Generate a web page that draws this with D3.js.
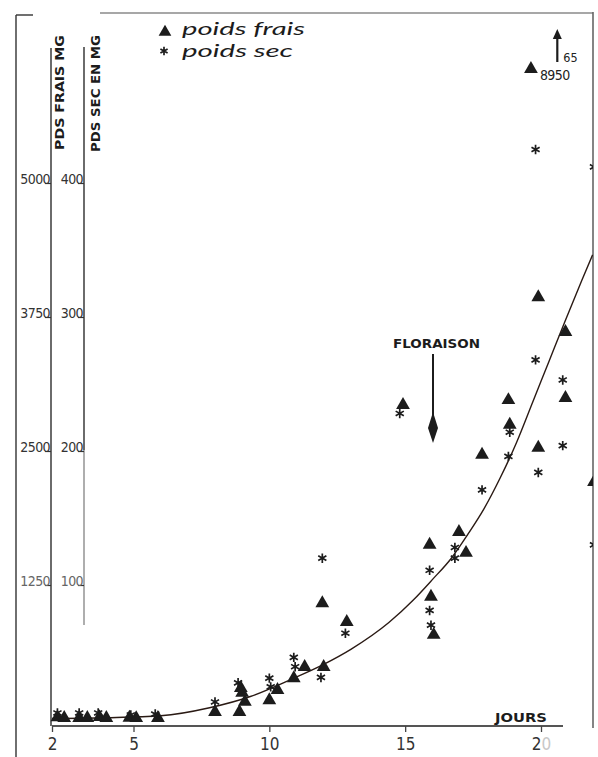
<!DOCTYPE html>
<html>
<head>
<meta charset="utf-8">
<script src="https://cdn.jsdelivr.net/npm/d3@7"></script>
<style>
  body { margin: 0; background: #fff; }
  svg { display: block; }
</style>
</head>
<body>
<svg id="chart" width="598" height="757"></svg>
<script>
// data (jours / mg)
const dayTicks = [2, 5, 10, 15, 20];
const freshTicks = [1250, 2500, 3750, 5000];
const dryTicks = [100, 200, 300, 400];

// poids frais (triangles)
const fraisDays = [2.2, 2.45, 3.0, 3.3, 3.75, 4.0, 4.85, 5.1, 5.9,
  8.0, 8.9, 9.1, 9.0, 8.95, 10.0, 10.3, 10.9, 11.3, 12.0, 11.95, 12.85,
  14.92, 15.9, 15.95, 16.05, 16.98, 17.24, 17.83, 18.8, 18.85,
  19.9, 19.9, 20.9, 20.9, 21.95];
const fraisValues = [15, 10, 10, 10, 18, 10, 12, 8, 10,
  65, 65, 160, 245, 290, 175, 270, 380, 485, 485, 1080, 905,
  2930, 1625, 1140, 785, 1745, 1550, 2465, 2975, 2745,
  3935, 2530, 3610, 2995, 2210];

// poids sec (asterisks)
const secDays = [2.2, 3.0, 3.7, 4.9, 5.8, 8.0, 8.85, 10.0, 10.05, 10.9, 10.95,
  11.9, 11.95, 12.8, 14.8, 15.9, 15.9, 15.95, 16.83, 16.83, 17.83,
  18.85, 18.8, 19.8, 19.9, 19.8, 20.8, 20.8, 21.95, 21.95];
const secValues = [4.5, 4.5, 4.5, 3, 3.7, 12.7, 27, 30.5, 24, 46, 39,
  31, 120, 64, 228, 111, 81, 70, 128, 120, 171,
  214, 196, 268, 184, 425, 253, 204, 130, 412];

// fitted curve (poids frais)
const curveDays = [2, 4, 6, 7.8, 9.3, 10.8, 12, 13, 14.4, 15.3, 16, 16.7, 17.3,
  17.9, 18.5, 19.1, 19.7, 20.3, 20.9, 21.5, 21.9];
const curveValues = [5, 12, 30, 105, 210, 370, 510, 650, 900, 1110, 1300, 1500, 1720,
  1960, 2250, 2580, 2960, 3340, 3720, 4090, 4330];

// off-scale values written on the figure
const offDay = 19.63;
const offValue = 8950;
const arrowDay = 20.6;
const arrowValue = 65;

const FONT = "'DejaVu Sans Condensed', 'DejaVu Sans', sans-serif";
const INK = "#1c1c1c";
const BREAK_Y = 69;
const RIGHT_EDGE = 593;

const svg = d3.select("#chart");

const xScale = d3.scaleLinear().domain([2, 20]).range([52, 541]);
const yFresh = d3.scaleLinear().domain([0, 5000]).range([719, 183]);
const yDry = d3.scaleLinear().domain([0, 400]).range([719, 183]);

drawFrame();
drawAxes();
drawCurve();
drawPoints();
drawLabels();

function drawFrame () {
  svg.append("line").attr("x1", 16).attr("x2", 16).attr("y1", 15).attr("y2", 757)
    .attr("stroke", "#333").attr("stroke-width", 1.4);
  svg.append("line").attr("x1", 16).attr("x2", 33).attr("y1", 15).attr("y2", 15)
    .attr("stroke", "#333").attr("stroke-width", 1.4);
  svg.append("line").attr("x1", 100).attr("x2", RIGHT_EDGE).attr("y1", 13).attr("y2", 13)
    .attr("stroke", "#8a8a8a").attr("stroke-width", 1.6);
  svg.append("line").attr("x1", RIGHT_EDGE).attr("x2", RIGHT_EDGE).attr("y1", 12).attr("y2", 728)
    .attr("stroke", "#666").attr("stroke-width", 1.6);

  svg.append("defs").append("clipPath").attr("id", "plot-clip")
    .append("rect").attr("x", 0).attr("y", 0).attr("width", RIGHT_EDGE).attr("height", 757);
}

function drawAxes () {
  // vertical axis lines
  svg.append("line").attr("x1", 51).attr("x2", 51).attr("y1", 48).attr("y2", 726)
    .attr("stroke", INK).attr("stroke-width", 1.3);
  svg.append("line").attr("x1", 84).attr("x2", 84).attr("y1", 47).attr("y2", 450)
    .attr("stroke", INK).attr("stroke-width", 1.3);
  svg.append("line").attr("x1", 84).attr("x2", 84).attr("y1", 450).attr("y2", 625)
    .attr("stroke", "#9a9a9a").attr("stroke-width", 1.6);

  // x axis
  svg.append("line").attr("x1", 52).attr("x2", 563).attr("y1", 726).attr("y2", 726)
    .attr("stroke", INK).attr("stroke-width", 1.5);

  let xAxis = svg.append("g").attr("id", "x-axis")
    .attr("transform", "translate(0,726)")
    .call(d3.axisBottom(xScale).tickValues(dayTicks).tickSize(6).tickFormat(d3.format("d")));
  xAxis.select(".domain").remove();
  xAxis.selectAll(".tick line").attr("stroke", "#444").attr("stroke-width", 1.3);
  xAxis.selectAll(".tick text")
    .attr("y", 24).attr("dy", 0)
    .attr("fill", "#333")
    .style("font-family", "'Liberation Sans Narrow', " + FONT)
    .style("font-size", "17px");
  xAxis.selectAll(".tick text").filter(d => d === 20)
    .text("2").append("tspan").attr("fill", "#c8c8c8").text("0");

  let freshAxis = svg.append("g").attr("id", "fresh-axis")
    .attr("transform", "translate(51,0)")
    .call(d3.axisLeft(yFresh).tickValues(freshTicks).tickSize(6).tickFormat(d3.format("d")));
  freshAxis.select(".domain").remove();

  let dryAxis = svg.append("g").attr("id", "dry-axis")
    .attr("transform", "translate(84,0)")
    .call(d3.axisLeft(yDry).tickValues(dryTicks).tickSize(6).tickFormat(d3.format("d")));
  dryAxis.select(".domain").remove();

  [freshAxis, dryAxis].forEach(ax => {
    ax.selectAll(".tick line").attr("stroke", "#333").attr("stroke-width", 1.2);
    ax.selectAll(".tick text")
      .attr("x", -1).attr("dy", 0).attr("y", 0)
      .attr("fill", d => (d === 1250 || d === 100) ? "#666" : "#333")
      .style("font-family", FONT)
      .style("font-size", "14px")
      .style("letter-spacing", "-0.6px");
  });
}

function drawCurve () {
  const pts = curveDays.map((d, i) => [xScale(d), yFresh(curveValues[i])]);
  const line = d3.line().curve(d3.curveMonotoneX);
  svg.append("path").attr("id", "fit-curve")
    .attr("clip-path", "url(#plot-clip)")
    .attr("d", line(pts))
    .attr("fill", "none")
    .attr("stroke", "#2a1a14")
    .attr("stroke-width", 1.4);
}

function drawPoints () {
  const tri = d3.symbol().type(d3.symbolTriangle).size(82);
  const star = d3.symbol().type(d3.symbolAsterisk).size(62);
  const g = svg.append("g").attr("clip-path", "url(#plot-clip)");

  g.selectAll("path.frais")
    .data(fraisDays.map((d, i) => ({ day: d, value: fraisValues[i] })))
    .join("path")
    .attr("class", "frais")
    .attr("d", tri)
    .attr("transform", d => `translate(${xScale(d.day)},${yFresh(d.value)})`)
    .attr("fill", INK);

  g.selectAll("path.sec")
    .data(secDays.map((d, i) => ({ day: d, value: secValues[i] })))
    .join("path")
    .attr("class", "sec")
    .attr("d", star)
    .attr("transform", d => `translate(${xScale(d.day)},${yDry(d.value)})`)
    .attr("fill", "none")
    .attr("stroke", INK)
    .attr("stroke-width", 1.7);

  // value too large for the scale: drawn at the top with its number
  svg.append("path").attr("d", tri)
    .attr("transform", `translate(${xScale(offDay)},${BREAK_Y})`)
    .attr("fill", INK);
  svg.append("text")
    .attr("x", xScale(offDay) + 9).attr("y", BREAK_Y + 11)
    .attr("fill", "#222")
    .style("font-family", FONT).style("font-size", "14px").style("letter-spacing", "-0.6px")
    .text(offValue);

  const ax = xScale(arrowDay);
  svg.append("line").attr("x1", ax).attr("x2", ax).attr("y1", 36).attr("y2", 62)
    .attr("stroke", INK).attr("stroke-width", 2.2);
  svg.append("path").attr("d", `M${ax},29 L${ax + 4.5},39 L${ax - 4.5},39 Z`).attr("fill", INK);
  svg.append("text")
    .attr("x", ax + 6).attr("y", 62)
    .attr("fill", "#222")
    .style("font-family", FONT).style("font-size", "12.5px")
    .text(arrowValue);
}

function drawLabels () {
  // axis titles
  svg.append("text")
    .attr("transform", "translate(64,150) rotate(-90)")
    .attr("textLength", 115).attr("lengthAdjust", "spacingAndGlyphs")
    .attr("fill", INK)
    .style("font-family", "'DejaVu Sans', sans-serif").style("font-weight", "bold").style("font-size", "13px")
    .text("PDS FRAIS MG");
  svg.append("text")
    .attr("transform", "translate(100,152) rotate(-90)")
    .attr("textLength", 117).attr("lengthAdjust", "spacingAndGlyphs")
    .attr("fill", INK)
    .style("font-family", "'DejaVu Sans', sans-serif").style("font-weight", "bold").style("font-size", "13px")
    .text("PDS SEC EN MG");

  svg.append("text")
    .attr("x", 495).attr("y", 722)
    .attr("textLength", 52).attr("lengthAdjust", "spacingAndGlyphs")
    .attr("fill", INK)
    .style("font-family", "'DejaVu Sans', sans-serif").style("font-weight", "bold").style("font-size", "13px")
    .text("JOURS");

  // legend
  svg.append("path").attr("d", d3.symbol().type(d3.symbolTriangle).size(70))
    .attr("transform", "translate(165,32)").attr("fill", INK);
  svg.append("path").attr("d", d3.symbol().type(d3.symbolAsterisk).size(48))
    .attr("transform", "translate(164,51)")
    .attr("fill", "none").attr("stroke", INK).attr("stroke-width", 1.7);
  svg.append("text")
    .attr("x", 182).attr("y", 35)
    .attr("textLength", 123).attr("lengthAdjust", "spacingAndGlyphs")
    .attr("fill", INK)
    .style("font-family", "Lato, 'DejaVu Sans', sans-serif").style("font-style", "italic").style("font-size", "18px")
    .text("poids  frais");
  svg.append("text")
    .attr("x", 182).attr("y", 57)
    .attr("textLength", 111).attr("lengthAdjust", "spacingAndGlyphs")
    .attr("fill", INK)
    .style("font-family", "Lato, 'DejaVu Sans', sans-serif").style("font-style", "italic").style("font-size", "18px")
    .text("poids  sec");

  // floraison marker
  svg.append("text")
    .attr("x", 393).attr("y", 348)
    .attr("textLength", 87).attr("lengthAdjust", "spacingAndGlyphs")
    .attr("fill", INK)
    .style("font-family", "'DejaVu Sans', sans-serif").style("font-weight", "bold").style("font-size", "13px")
    .text("FLORAISON");
  svg.append("line").attr("x1", 433).attr("x2", 433).attr("y1", 354).attr("y2", 420)
    .attr("stroke", INK).attr("stroke-width", 2);
  svg.append("path").attr("d", "M433,412 L438,428 L433,443 L428,428 Z").attr("fill", INK);
}
</script>
</body>
</html>
